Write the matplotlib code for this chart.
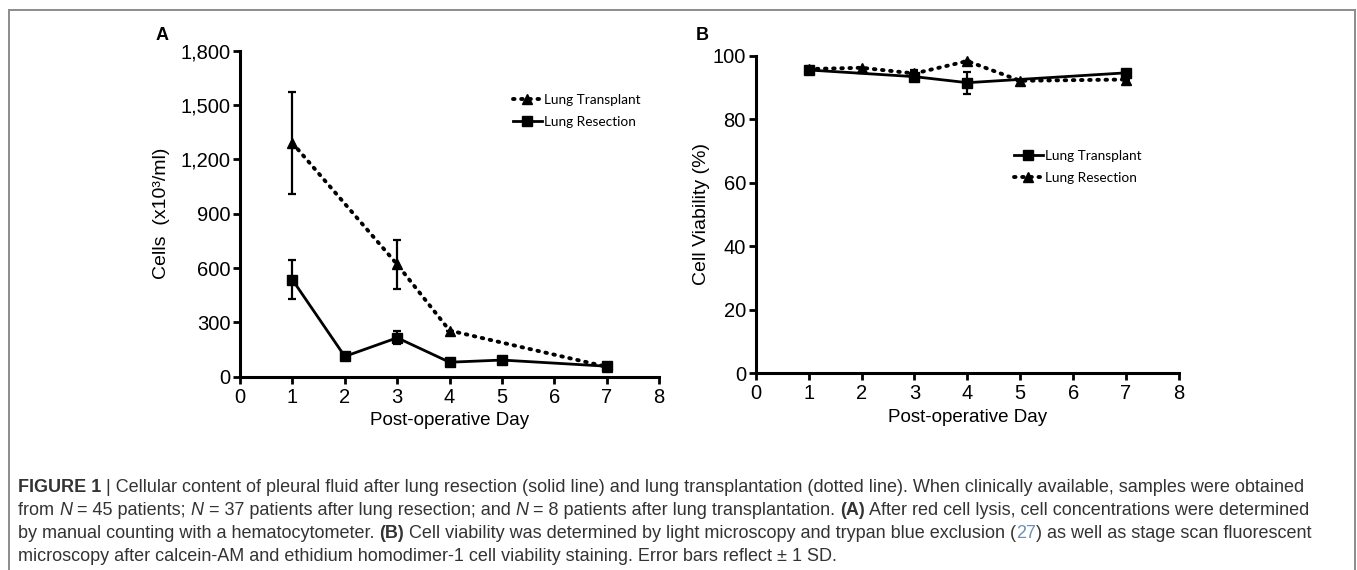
import matplotlib
matplotlib.use("Agg")
import matplotlib.pyplot as plt
from matplotlib.lines import Line2D
from matplotlib.offsetbox import TextArea, HPacker, VPacker, AnchoredOffsetbox

# Panel A: cell counts (x10^3/ml)
days_tx = [1, 3, 4, 7]
cells_tx = [1290, 620, 255, 55]
cells_tx_sd = [280, 133, 0, 0]

days_rs = [1, 2, 3, 4, 5, 7]
cells_rs = [535, 112, 215, 80, 92, 58]
cells_rs_sd = [108, 20, 36, 0, 0, 0]

# Panel B: viability (%)
via_solid_days = [1, 3, 4, 7]
via_solid = [95.5, 93.4, 91.5, 94.6]
via_solid_sd = [0.6, 1.5, 3.5, 0.5]

via_dot_days = [1, 2, 3, 4, 5, 7]
via_dot = [95.8, 96.2, 94.4, 98.3, 92.1, 92.5]
via_dot_sd = [0, 0, 1.0, 0, 0, 0]

ticks_a = [0, 300, 600, 900, 1200, 1500, 1800]
ticks_b = [0, 20, 40, 60, 80, 100]
ticks_x = list(range(0, 9))

plt.rcParams['font.family'] = ['Liberation Sans', 'DejaVu Sans']

fig = plt.figure(figsize=(13.57, 5.70), dpi=100)
ax1 = fig.add_axes([0.1769, 0.3391, 0.3088, 0.5720])
ax2 = fig.add_axes([0.5569, 0.3451, 0.3119, 0.5572])

DOT = dict(color='black', linestyle=(0, (0.4, 1.7)), linewidth=2.8,
           dash_capstyle='round', marker='^', markersize=7.5)
SOL = dict(color='black', linestyle='-', linewidth=2.0, marker='s', markersize=7.5)


def style_axes(ax):
    for s in ['top', 'right']:
        ax.spines[s].set_visible(False)
    for s in ['left', 'bottom']:
        ax.spines[s].set_linewidth(2.2)
    ax.tick_params(direction='out', length=5, width=2, labelsize=14.5, pad=3)
    ax.tick_params(axis='y', pad=2)
    ax.set_xlim(0, 8)
    ax.set_xticks(ticks_x)
    ax.set_xlabel('Post-operative Day', fontsize=13.5, labelpad=4)


def series(ax, x, y, err, style):
    ax.errorbar(x, y, yerr=err, fmt='none', ecolor='black', capsize=3,
                elinewidth=1.6, capthick=1.6)
    ax.plot(x, y, **style)


def add_legend(ax, styles, labels, x0, y0):
    handles = [Line2D([], [], **s) for s in styles]
    ax.legend(handles, labels, loc='upper left',
              bbox_to_anchor=(x0 / 1357, 1 - y0 / 570),
              bbox_transform=fig.transFigure, frameon=False,
              prop={'family': 'Lato', 'size': 9.8}, handlelength=2.1,
              handletextpad=0.2, labelspacing=0.75, borderaxespad=0, borderpad=0)


# ---- A
series(ax1, days_tx, cells_tx, cells_tx_sd, DOT)
series(ax1, days_rs, cells_rs, cells_rs_sd, SOL)
style_axes(ax1)
ax1.set_ylim(0, 1800)
ax1.set_yticks(ticks_a)
ax1.set_yticklabels(['{:,}'.format(t) for t in ticks_a])
ax1.set_ylabel('Cells  (x10³/ml)', fontsize=14, labelpad=7)
add_legend(ax1, [DOT, SOL], ['Lung Transplant', 'Lung Resection'], 513, 94)

# ---- B
series(ax2, via_solid_days, via_solid, via_solid_sd, SOL)
series(ax2, via_dot_days, via_dot, via_dot_sd, DOT)
style_axes(ax2)
ax2.set_ylim(0, 100)
ax2.set_yticks(ticks_b)
ax2.set_ylabel('Cell Viability (%)', fontsize=14, labelpad=2)
add_legend(ax2, [SOL, DOT], ['Lung Transplant', 'Lung Resection'], 1014, 150)

fig.text(156 / 1357, 1 - 36 / 570, 'A', fontsize=13, fontweight='bold', va='center')
fig.text(696 / 1357, 1 - 36 / 570, 'B', fontsize=13, fontweight='bold', va='center')

# grey frame
frame = dict(color='#8c8c8c', linewidth=1.4, transform=fig.transFigure)
fig.add_artist(Line2D([9 / 1357, 1355 / 1357], [1 - 10 / 570, 1 - 10 / 570], **frame))
fig.add_artist(Line2D([9 / 1357, 9 / 1357], [0, 1 - 10 / 570], **frame))
fig.add_artist(Line2D([1355 / 1357, 1355 / 1357], [0, 1 - 10 / 570], **frame))

# caption
cap_size = 13.0
base = dict(color='#333333', fontsize=cap_size, family='Liberation Sans')


def seg(t, **kw):
    p = dict(base)
    p.update(kw)
    return TextArea(t, textprops=p)


lines = [
    [seg('FIGURE 1', fontweight='bold'),
     seg(' | Cellular content of pleural fluid after lung resection (solid line) and lung '
         'transplantation (dotted line). When clinically available, samples were obtained')],
    [seg('from '), seg('N', style='italic'), seg(' = 45 patients; '), seg('N', style='italic'),
     seg(' = 37 patients after lung resection; and '), seg('N', style='italic'),
     seg(' = 8 patients after lung transplantation. '), seg('(A)', fontweight='bold'),
     seg(' After red cell lysis, cell concentrations were determined')],
    [seg('by manual counting with a hematocytometer. '), seg('(B)', fontweight='bold'),
     seg(' Cell viability was determined by light microscopy and trypan blue exclusion ('),
     seg('27', color='#6f8fb5'),
     seg(') as well as stage scan fluorescent')],
    [seg('microscopy after calcein-AM and ethidium homodimer-1 cell viability staining. '
         'Error bars reflect ± 1 SD.')],
]
rows = [HPacker(children=ch, pad=0, sep=0, align='baseline') for ch in lines]
box = VPacker(children=rows, pad=0, sep=4.4, align='left')
anch = AnchoredOffsetbox(loc='upper left', child=box, frameon=False, pad=0, borderpad=0,
                         bbox_to_anchor=(18 / 1357, 1 - 479 / 570),
                         bbox_transform=fig.transFigure)
fig.add_artist(anch)

fig.savefig('out.png', dpi=100)
